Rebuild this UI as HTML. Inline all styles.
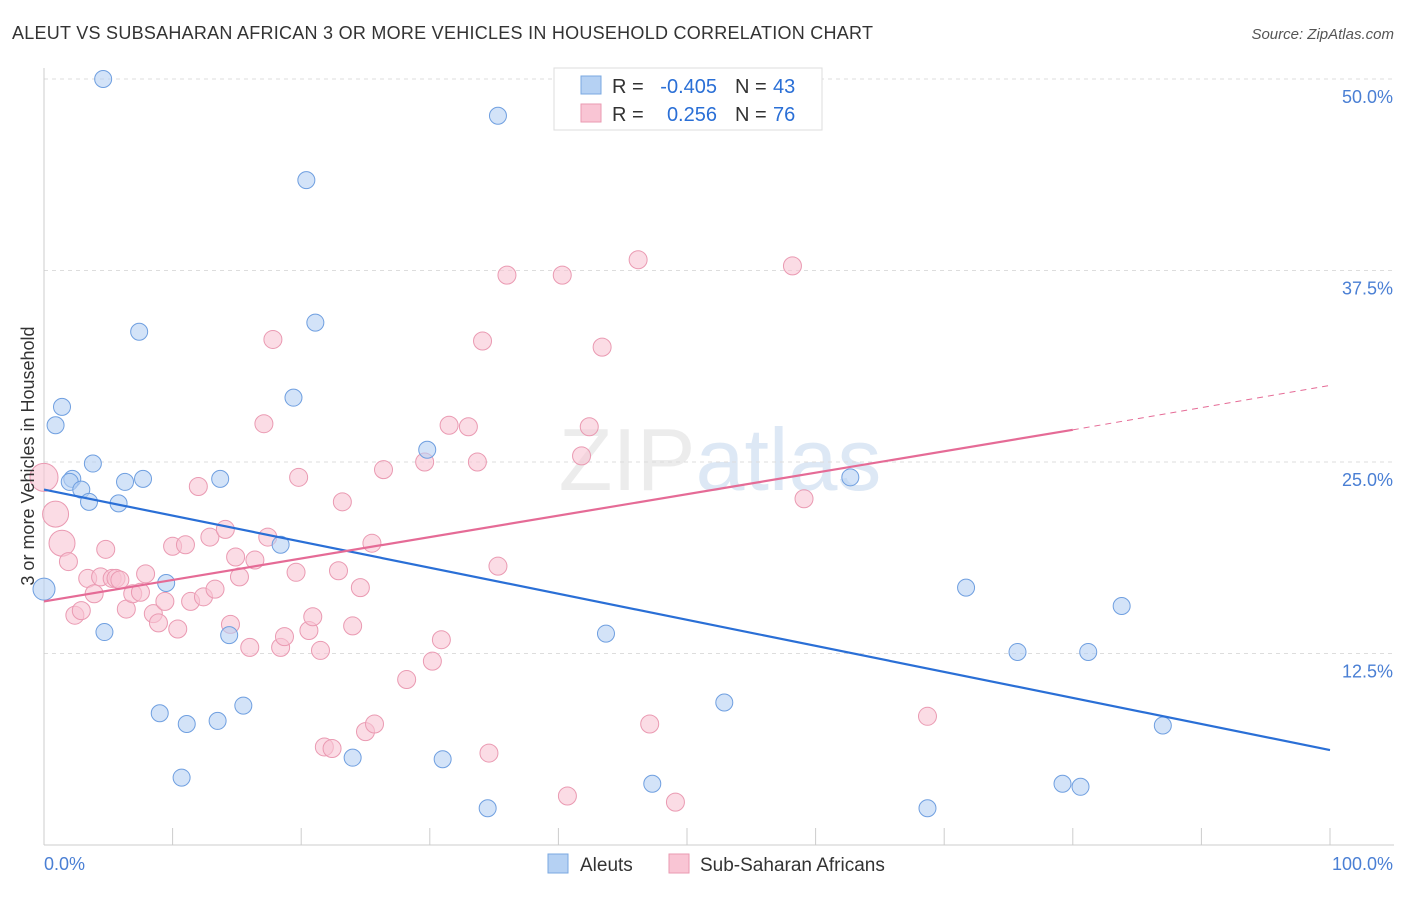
<!DOCTYPE html>
<html><head><meta charset="utf-8"><style>
body{margin:0;background:#fff;font-family:"Liberation Sans",sans-serif;}
svg text{font-family:"Liberation Sans",sans-serif;}
</style></head><body>
<svg id="chart" width="1406" height="892" xmlns="http://www.w3.org/2000/svg">
<text x="12" y="39" font-size="18" fill="#333" textLength="861">ALEUT VS SUBSAHARAN AFRICAN 3 OR MORE VEHICLES IN HOUSEHOLD CORRELATION CHART</text>
<text x="1394" y="39" font-size="15" fill="#555" text-anchor="end" font-style="italic">Source: ZipAtlas.com</text>
<text x="720" y="490" font-size="88" fill="#ececec" font-family="Liberation Serif" text-anchor="middle">ZIP<tspan fill="#dde8f5" font-family="Liberation Sans">atlas</tspan></text>
<g id="grid"></g><g id="marks"></g>
<text x="34" y="456" font-size="18" fill="#333" text-anchor="middle" transform="rotate(-90 34 456)">3 or more Vehicles in Household</text>
<g>
<rect x="554" y="68" width="268" height="62" fill="#fff" stroke="#ddd"/>
<rect x="581" y="76" width="20" height="18" fill="#b5d1f3" stroke="#7aa8e0"/>
<rect x="581" y="104" width="20" height="18" fill="#f9c5d4" stroke="#ea9ab2"/>
<text x="612" y="93" font-size="20" fill="#333">R =</text>
<text x="717" y="93" font-size="20" fill="#2a6fd6" text-anchor="end">-0.405</text>
<text x="735" y="93" font-size="20" fill="#333">N =</text>
<text x="773" y="93" font-size="20" fill="#2a6fd6">43</text>
<text x="612" y="121" font-size="20" fill="#333">R =</text>
<text x="717" y="121" font-size="20" fill="#2a6fd6" text-anchor="end">0.256</text>
<text x="735" y="121" font-size="20" fill="#333">N =</text>
<text x="773" y="121" font-size="20" fill="#2a6fd6">76</text>
</g>
<g>
<rect x="548" y="854" width="20" height="19" fill="#b5d1f3" stroke="#7aa8e0"/>
<text x="580" y="871" font-size="19" fill="#333">Aleuts</text>
<rect x="669" y="854" width="20" height="19" fill="#f9c5d4" stroke="#ea9ab2"/>
<text x="700" y="871" font-size="19" fill="#333">Sub-Saharan Africans</text>
</g>
</svg>
<script>
const yTicks=[12.5,25,37.5,50];
const yTickLabels=["12.5%","25.0%","37.5%","50.0%"];
const aleutX=[4.6,35.3,20.4,7.4,21.1,1.4,0.9,19.4,3.8,29.8,2.2,2.0,2.9,3.5,5.8,6.3,7.7,13.7,18.4,9.5,0,4.7,14.4,43.7,62.7,71.7,83.8,75.7,81.2,9.0,11.1,13.5,15.5,52.9,87.0,10.7,24.0,31.0,34.5,47.3,68.7,79.2,80.6];
const aleutY=[50.0,47.6,43.4,33.5,34.1,28.6,27.4,29.2,24.9,25.8,23.9,23.7,23.2,22.4,22.3,23.7,23.9,23.9,19.6,17.1,16.7,13.9,13.7,13.8,24.0,16.8,15.6,12.6,12.6,8.6,7.9,8.1,9.1,9.3,7.8,4.4,5.7,5.6,2.4,4.0,2.4,4.0,3.8];
const pinkX=[0,0.9,1.4,1.9,2.4,2.9,3.4,3.9,4.4,4.8,5.3,5.6,5.9,6.4,6.9,7.5,7.9,8.5,8.9,9.4,10.0,10.4,11.0,11.4,12.0,12.4,12.9,13.3,14.1,14.5,14.9,15.2,16.0,16.4,17.1,17.4,17.8,18.4,18.7,19.6,19.8,20.6,20.9,21.5,21.8,22.4,22.9,23.2,24.0,24.6,25.0,25.5,25.7,26.4,28.2,29.6,30.2,30.9,31.5,33.0,33.7,34.1,34.6,35.3,36.0,40.3,40.7,41.8,42.4,43.4,46.2,47.1,49.1,58.2,59.1,68.7];
const pinkY=[24.0,21.6,19.7,18.5,15.0,15.3,17.4,16.4,17.5,19.3,17.4,17.4,17.3,15.4,16.4,16.5,17.7,15.1,14.5,15.9,19.5,14.1,19.6,15.9,23.4,16.2,20.1,16.7,20.6,14.4,18.8,17.5,12.9,18.6,27.5,20.1,33.0,12.9,13.6,17.8,24.0,14.0,14.9,12.7,6.4,6.3,17.9,22.4,14.3,16.8,7.4,19.7,7.9,24.5,10.8,25.0,12.0,13.4,27.4,27.3,25.0,32.9,6.0,18.2,37.2,37.2,3.2,25.4,27.3,32.5,38.2,7.9,2.8,37.8,22.6,8.4];
const blueLine=[23.2,6.2];
const pinkLine=[15.9,27.1,30.0];
const X=v=>44+v*12.86, Y=v=>845-v*15.32;
const NS="http://www.w3.org/2000/svg";
function mk(t,a,p){const e=document.createElementNS(NS,t);for(const k in a)e.setAttribute(k,a[k]);p.appendChild(e);return e;}
const g=document.getElementById('grid'), m=document.getElementById('marks');
yTicks.forEach((t,i)=>{
 const l=mk('line',{x1:44,x2:1394,y1:Y(t),y2:Y(t),stroke:'#ddd','stroke-dasharray':'4,4'},g);
 
 
 const tx=mk('text',{x:1393,y:Y(t)+24,'font-size':18,fill:'#4a7fd4','text-anchor':'end'},g);
 tx.textContent=yTickLabels[i];
 
 
});
mk('line',{x1:44,x2:44,y1:68,y2:845,stroke:'#ccc'},g);
mk('line',{x1:44,x2:1394,y1:845,y2:845,stroke:'#ccc'},g);
for(let i=0;i<=10;i++){const t=mk('line',{x1:X(i*10),x2:X(i*10),y1:828,y2:845,stroke:'#ccc'},g);
 
 }
[["0.0%",44,'start'],["100.0%",1393,'end']].forEach(d=>{const t=mk('text',{x:d[1],y:870,'font-size':18,fill:'#4a7fd4','text-anchor':d[2]},g);t.textContent=d[0];
 
 });
pinkX.forEach((x,i)=>{const big=i<3;const c=mk('circle',{cx:X(x),cy:Y(pinkY[i]),r:big?(i==0?14:13):9,fill:'#f9c5d4','fill-opacity':0.6,stroke:'#ea9ab2','stroke-width':1},m);
 
 });
aleutX.forEach((x,i)=>{const c=mk('circle',{cx:X(x),cy:Y(aleutY[i]),r:i==20?11:8.5,fill:'#b5d1f3','fill-opacity':0.6,stroke:'#6f9fe0','stroke-width':1},m);
 
 });
const bl=mk('line',{x1:X(0),y1:Y(blueLine[0]),x2:X(100),y2:Y(blueLine[1]),stroke:'#2a6fd6','stroke-width':2.2},m);


const pl=mk('line',{x1:X(0),y1:Y(pinkLine[0]),x2:X(80),y2:Y(pinkLine[1]),stroke:'#e56b96','stroke-width':2.2},m);


const pd=mk('line',{x1:X(80),y1:Y(pinkLine[1]),x2:X(100),y2:Y(pinkLine[2]),stroke:'#e56b96','stroke-width':1,'stroke-dasharray':'6,5'},m);


</script>
</body></html>
